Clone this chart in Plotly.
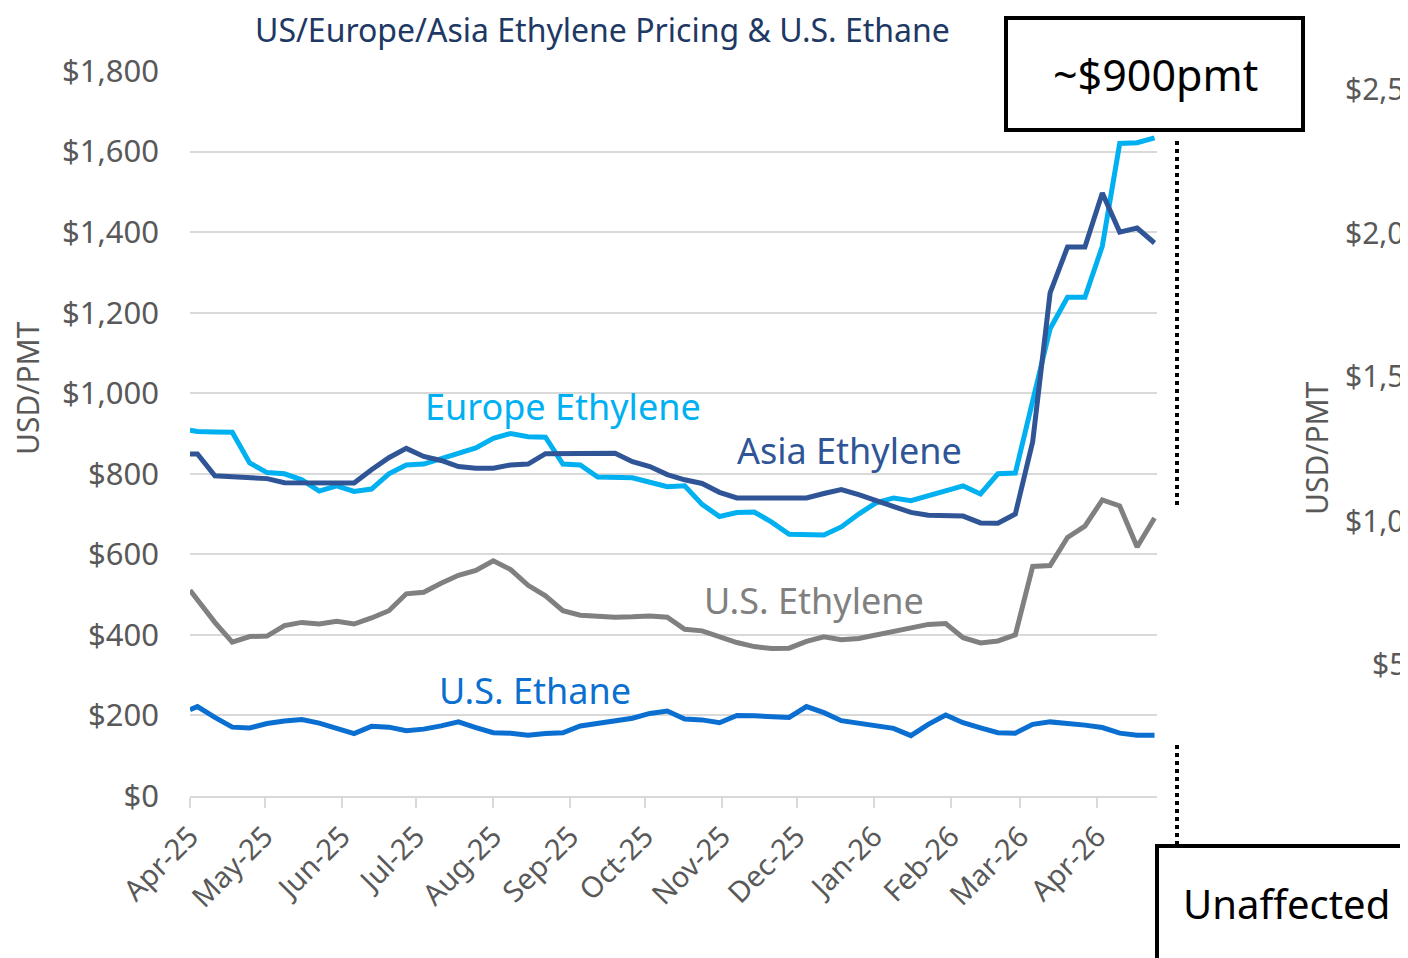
import plotly.graph_objects as go

# ---------------- data ----------------
dates = ["2025-04-01",
         "2025-04-04", "2025-04-11", "2025-04-18", "2025-04-25",
         "2025-05-02", "2025-05-09", "2025-05-16", "2025-05-23", "2025-05-30",
         "2025-06-06", "2025-06-13", "2025-06-20", "2025-06-27",
         "2025-07-04", "2025-07-11", "2025-07-18", "2025-07-25",
         "2025-08-01", "2025-08-08", "2025-08-15", "2025-08-22", "2025-08-29",
         "2025-09-05", "2025-09-12", "2025-09-19", "2025-09-26",
         "2025-10-03", "2025-10-10", "2025-10-17", "2025-10-24", "2025-10-31",
         "2025-11-07", "2025-11-14", "2025-11-21", "2025-11-28",
         "2025-12-05", "2025-12-12", "2025-12-19", "2025-12-26",
         "2026-01-02", "2026-01-09", "2026-01-16", "2026-01-23", "2026-01-30",
         "2026-02-06", "2026-02-13", "2026-02-20", "2026-02-27",
         "2026-03-06", "2026-03-13", "2026-03-20", "2026-03-27",
         "2026-04-03", "2026-04-10", "2026-04-17", "2026-04-24"]

europe_ethylene = [908, 905, 904, 903, 827, 803, 800, 785, 757, 770, 756, 762, 800, 822, 824,
                   838, 852, 864, 888, 900, 892, 891, 824, 822, 792, 790, 790, 779, 768, 770,
                   724, 694, 704, 705, 680, 650, 648, 648, 668, 700, 728, 740, 733, 745, 757,
                   770, 750, 800, 802, 985, 1160, 1238, 1238, 1365, 1620, 1622, 1634]

asia_ethylene = [849, 849, 795, 792, 792, 788, 778, 777, 777, 777, 777, 810, 840, 863, 843,
                 833, 818, 814, 814, 822, 824, 850, 851, 851, 851, 851, 830, 818, 798, 785,
                 776, 754, 740, 740, 740, 740, 740, 751, 761, 748, 733, 719, 704, 697, 695,
                 695, 678, 677, 700, 880, 1249, 1363, 1363, 1497, 1400, 1410, 1373]

us_ethylene = [511, 486, 431, 382, 396, 397, 423, 431, 427, 434, 427, 442, 460, 502, 506,
               528, 548, 560, 584, 562, 523, 497, 460, 449, 445, 444, 445, 447, 444, 414,
               410, 395, 381, 371, 366, 367, 384, 395, 388, 391, 400, 408, 416, 426, 428,
               393, 380, 385, 400, 570, 572, 642, 670, 735, 720, 618, 690]

us_ethane = [214, 222, 195, 171, 169, 180, 186, 190, 181, 169, 155, 173, 171, 162, 166,
             174, 184, 170, 157, 156, 151, 155, 157, 174, 181, 188, 193, 205, 211, 191,
             189, 182, 200, 199, 197, 195, 222, 207, 187, 181, 175, 168, 150, 178, 201,
             182, 169, 157, 156, 178, 184, 181, 176, 170, 156, 151, 151]

tick_dates = ["2025-04-01", "2025-05-01", "2025-06-01", "2025-07-01", "2025-08-01",
              "2025-09-01", "2025-10-01", "2025-11-01", "2025-12-01", "2026-01-01",
              "2026-02-01", "2026-03-01", "2026-04-01"]
tick_labels = ["Apr-25", "May-25", "Jun-25", "Jul-25", "Aug-25", "Sep-25", "Oct-25",
               "Nov-25", "Dec-25", "Jan-26", "Feb-26", "Mar-26", "Apr-26"]

y_ticks = [0, 200, 400, 600, 800, 1000, 1200, 1400, 1600, 1800]
y_tick_labels = ["$0", "$200", "$400", "$600", "$800", "$1,000", "$1,200", "$1,400",
                 "$1,600", "$1,800"]

right_axis_labels = ["$2,5", "$2,0", "$1,5", "$1,0", "$5"]

# ---------------- style ----------------
FONT = "Noto Sans"
C_EU = "#00B0F0"
C_ASIA = "#2F5597"
C_USETH = "#808080"
C_ETHANE = "#0A6FD0"
GRAY_TXT = "#595959"
GRID = "#D9D9D9"

fig = go.Figure()
series = [("U.S. Ethane", us_ethane, C_ETHANE),
          ("U.S. Ethylene", us_ethylene, C_USETH),
          ("Europe Ethylene", europe_ethylene, C_EU),
          ("Asia Ethylene", asia_ethylene, C_ASIA)]
for name, vals, col in series:
    fig.add_trace(go.Scatter(x=dates, y=vals, mode="lines", name=name,
                             line=dict(color=col, width=5), hoverinfo="skip"))

# page offset (body margin) and plot area in page pixels
OFF = 8
L, R, T, B = 190, 1157, 71, 796
W, H = 1408, 958


def px(x):
    return (x - L) / (R - L)


def py(y):
    return (B - y) / (B - T)


fig.update_layout(
    width=W - OFF, height=H - OFF,
    margin=dict(l=L - OFF, r=W - R, t=T - OFF, b=H - B),
    paper_bgcolor="white", plot_bgcolor="white",
    showlegend=False,
    font=dict(family=FONT, color=GRAY_TXT),
    xaxis=dict(type="date", range=["2025-04-01", "2026-04-25"],
               tickvals=tick_dates, ticktext=tick_labels, tickangle=-45,
               tickfont=dict(size=29, color=GRAY_TXT, family=FONT),
               ticks="outside", ticklen=10, tickwidth=1.5, tickcolor=GRID,
               showgrid=False, showline=True, linecolor=GRID, linewidth=2,
               zeroline=False),
    yaxis=dict(range=[0, 1800], tickvals=y_ticks, ticktext=y_tick_labels,
               tickfont=dict(size=31, color=GRAY_TXT, family=FONT),
               showgrid=True, gridcolor=GRID, gridwidth=2,
               zeroline=False, showline=False, ticks="", ticklabelstandoff=30),
)

ann = []
ann.append(dict(text="US/Europe/Asia Ethylene Pricing &amp; U.S. Ethane", x=px(602), y=py(29),
                font=dict(size=32, color="#203864")))
ann.append(dict(text="USD/PMT", x=px(27), y=py(388), textangle=-90,
                font=dict(size=30, color=GRAY_TXT)))
ann.append(dict(text="Europe Ethylene", x=px(563), y=py(406), font=dict(size=36, color=C_EU)))
ann.append(dict(text="Asia Ethylene", x=px(849), y=py(450), font=dict(size=36, color=C_ASIA)))
ann.append(dict(text="U.S. Ethylene", x=px(814), y=py(600), font=dict(size=36, color=C_USETH)))
ann.append(dict(text="U.S. Ethane", x=px(535), y=py(690), font=dict(size=36, color=C_ETHANE)))
ann.append(dict(text="~$900pmt", x=px(1155), y=py(75), font=dict(size=43, color="black")))
ann.append(dict(text="Unaffected", x=px(1286), y=py(903), font=dict(size=40, color="black")))
ann.append(dict(text="USD/PMT", x=px(1316), y=py(448), textangle=-90,
                font=dict(size=30, color=GRAY_TXT)))
for lbl, yy, xx in zip(right_axis_labels, [88, 232, 376, 520, 663],
                       [1343, 1343, 1343, 1343, 1370]):
    ann.append(dict(text=lbl, x=px(xx), y=py(yy), xanchor="left",
                    font=dict(size=30, color=GRAY_TXT)))
for a in ann:
    a.setdefault("xanchor", "center")
    a.update(xref="paper", yref="paper", yanchor="middle", showarrow=False)
fig.update_layout(annotations=ann)

shapes = [
    dict(type="rect", xref="paper", yref="paper", x0=px(1006), x1=px(1303), y0=py(130), y1=py(18),
         line=dict(color="black", width=4), fillcolor="white", layer="above"),
    dict(type="rect", xref="paper", yref="paper", x0=px(1157), x1=px(1430), y0=py(980), y1=py(846),
         line=dict(color="black", width=4), fillcolor="white", layer="above"),
    dict(type="line", xref="paper", yref="paper", x0=px(1177), x1=px(1177), y0=py(505), y1=py(140),
         line=dict(color="black", width=4, dash="dot")),
    dict(type="line", xref="paper", yref="paper", x0=px(1177), x1=px(1177), y0=py(845), y1=py(742),
         line=dict(color="black", width=4, dash="dot")),
]
fig.update_layout(shapes=shapes)

fig.write_html("out.html")
